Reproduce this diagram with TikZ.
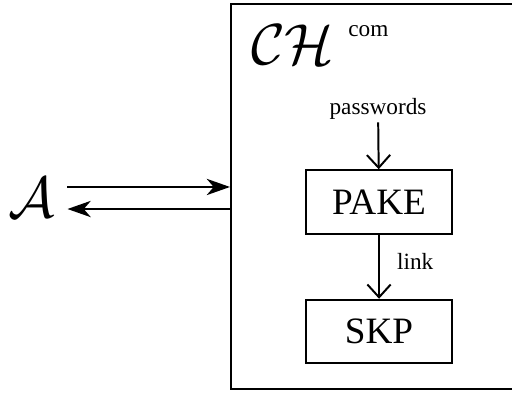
\documentclass[tikz,border=0pt]{standalone}
\usepackage{fontspec}
\setmainfont{Liberation Serif}
\usetikzlibrary{arrows.meta}
\begin{document}
\begin{tikzpicture}[font=\fontsize{10}{12}\selectfont,
    line width=0.85pt,
    blk/.style={draw, minimum width=2.206cm, minimum height=0.96cm, font=\fontsize{16}{19}\selectfont},
    vflow/.style={-{Straight Barb[length=5.5pt, width=10pt]}},
    hflow/.style={-{Stealth[length=10pt, width=7pt, inset=3pt]}}]
  % 画布范围（右侧被裁掉）
  \useasboundingbox (0,0) rectangle (7.736,5.923);

  % 挑战者大框
  \node[draw, minimum width=4.67cm, minimum height=5.817cm] (chal) at (5.825,2.947) {};
  \node[anchor=base west, inner sep=0pt] (chname) at (3.78,4.956)
    {{\fontsize{24}{28}\selectfont$\mathcal{CH}$}\hspace{6pt}\raisebox{12pt}{com}};

  % 敌手
  \node[inner sep=5pt] (adv) at (0.48,2.93) {\fontsize{23}{27}\selectfont$\mathcal{A}$};

  % 内部模块
  \node[anchor=base, inner sep=1pt] (pw) at (5.712,4.20) {passwords};
  \node[blk] (pake) at (5.727,2.871) {PAKE};
  \node[blk] (skp)  at (5.727,0.914) {SKP};

  \draw[vflow] (pw) -- (pake);
  \draw[vflow] (pake) -- node[right=4pt, yshift=2.5pt] {link} (skp);

  % 敌手与挑战者之间的交互
  \coordinate (q) at ([yshift=0.168cm]adv.east);
  \coordinate (r) at ([yshift=-0.165cm]adv.east);
  \draw[hflow] (q) -- (q -| chal.west);
  \draw[hflow] (r -| chal.west) -- (r);
\end{tikzpicture}
\end{document}
